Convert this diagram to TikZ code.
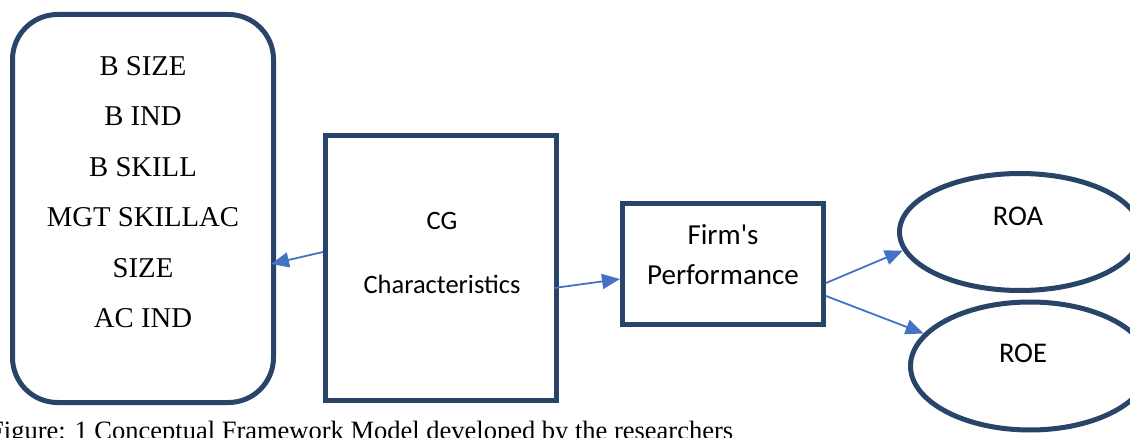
\documentclass[tikz,border=0pt]{standalone}
\usepackage{fontspec}
\setmainfont{Liberation Serif}
\newfontfamily\calibri{Carlito}
\usetikzlibrary{arrows.meta,shapes.geometric,calc}
\definecolor{boxline}{RGB}{40,68,104}
\definecolor{arrowblue}{RGB}{68,114,196}

\begin{document}
\begin{tikzpicture}[x=1pt,y=-1pt,
  frame/.style={draw=boxline, line width=5pt, inner sep=0pt, fill=white},
  conn/.style={draw=arrowblue, line width=1.8pt, -{Triangle[length=18pt,width=15pt]}},
  serif/.style={font=\fontsize{28.7}{30}\selectfont, anchor=base, inner sep=0pt},
  sans/.style={font=\calibri\fontsize{#1}{30}\selectfont, anchor=base, inner sep=0pt}]
\useasboundingbox (0,0) rectangle (1130,438);

% boxes
\node[frame, rounded corners=45pt, minimum width=261pt, minimum height=388pt] (vars) at (143,208.5) {};
\node[frame, minimum width=231pt, minimum height=265pt] (cg) at (441,268) {};
\node[frame, minimum width=201pt, minimum height=121pt] (firm) at (723,264) {};
\node[frame, ellipse, minimum width=241pt, minimum height=117pt] (roa) at (1020,232) {};
\node[frame, ellipse, minimum width=239pt, minimum height=128pt] (roe) at (1030,366) {};

% variable list
\node[serif] (v1) at (143,76) {B SIZE};
\node[serif] (v2) at (143,126) {B IND};
\node[serif] (v3) at (143,177) {B SKILL};
\node[serif] (v4) at (143,227) {MGT SKILLAC};
\node[serif] (v5) at (143,278) {SIZE};
\node[serif] (v6) at (143,328) {AC IND};

% box labels
\node[sans=26.5] (cg1) at (442,230) {CG};
\node[sans=26.5] (cg2) at (442,294) {Characteristics};
\node[sans=29] (fp1) at (723,245) {Firm's};
\node[sans=29] (fp2) at (723,284.3) {Performance};
\node[sans=28.5] (roat) at (1018,226) {ROA};
\node[sans=28.5] (roet) at (1023,362.7) {ROE};

% connectors
\draw[conn] ($(cg.west)+(0,-16)$) -- ($(vars.east)+(-5,55.5)$);
\draw[conn] ($(cg.east)+(-5,20)$) -- ($(firm.west)+(0,15)$);
\draw[conn] ($(firm.east)+(0,19)$) -- (roa.189);
\draw[conn] ($(firm.east)+(0,32)$) -- (roe.163);

% caption
\node[font=\fontsize{26.5}{30}\selectfont, anchor=base west, inner sep=0pt] (cap) at (-11,439)
  {Figure: 1 Conceptual Framework Model developed by the researchers};
\end{tikzpicture}
\end{document}
